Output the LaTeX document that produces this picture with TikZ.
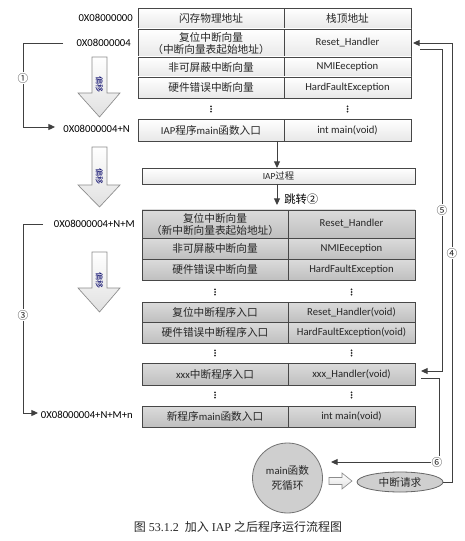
\documentclass[tikz,border=0pt]{standalone}
\usepackage{fontspec}
\setmainfont{Carlito}
\newfontfamily\cjk{Noto Sans CJK SC}
\newfontfamily\capserif{Liberation Serif}
\usetikzlibrary{arrows.meta,shapes.geometric}
\newcommand\vdotsat[2]{\foreach \k in {-2.6,0,2.6}{\fill[black!85] (#1,#2+\k) circle (0.75pt);}}
\begin{document}
\begin{tikzpicture}[x=0.75pt,y=-0.75pt,
 cellA/.style={draw=black!72, line width=0.6pt, inner sep=0pt, outer sep=0pt, top color=white, bottom color=black!9, text=black!85, font=\fontsize{8}{10}\selectfont, align=center},
 cellB/.style={cellA, top color=black!14, bottom color=black!25},
 lw1/.style={minimum width=109.5pt}, rw1/.style={minimum width=95.25pt},
 addr/.style={anchor=east, inner sep=0pt, font=\fontsize{8}{10}\selectfont, text=black},
 tip/.style={-{Triangle[length=5pt,width=4.5pt]}},
 conn/.style={draw=black!75, line width=0.7pt},
 num/.style={fill=white, inner sep=0.6pt, font=\cjk\fontsize{8}{9}\selectfont, text=black!85},
 hollow/.style={draw=black!45, line width=0.5pt, top color=white, bottom color=black!12},
 offs/.style={rotate=-90, inner sep=0pt, font=\cjk\fontsize{6}{6}\selectfont, text=blue!40!black}
]
\useasboundingbox (0,0) rectangle (464,541);

% ---------- table 1 ----------
\node[cellA,lw1,minimum height=15.75pt] (r0l) at (211,18.5) {{\cjk 闪存物理地址}};
\node[cellA,rw1,minimum height=15.75pt] (r0r) at (347.5,18.5) {{\cjk 栈顶地址}};
\node[cellA,lw1,minimum height=21pt] (r1l) at (211,43) {{\cjk 复位中断向量}\\[-1pt]{\cjk （中断向量表起始地址）}};
\node[cellA,rw1,minimum height=21pt] (r1r) at (347.5,43) {Reset\_Handler};
\node[cellA,lw1,minimum height=15pt] (r2l) at (211,67) {{\cjk 非可屏蔽中断向量}};
\node[cellA,rw1,minimum height=15pt] (r2r) at (347.5,67) {NMIEeception};
\node[cellA,lw1,minimum height=15.75pt] (r3l) at (211,87.5) {{\cjk 硬件错误中断向量}};
\node[cellA,rw1,minimum height=15.75pt] (r3r) at (347.5,87.5) {HardFaultException};
\vdotsat{211}{109}\vdotsat{347.5}{109}
\node[cellA,lw1,minimum height=16.5pt] (r4l) at (211,130) {IAP{\cjk 程序}main{\cjk 函数入口}};
\node[cellA,rw1,minimum height=16.5pt] (r4r) at (347.5,130) {int main(void)};

% ---------- IAP box ----------
\node[cellA,minimum width=204.75pt,minimum height=12pt,font=\fontsize{7}{8}\selectfont] (iap) at (278.5,176) {IAP{\cjk 过程}};

% ---------- table 2 ----------
\node[cellB,lw1,minimum height=21pt] (s0l) at (215,224) {{\cjk 复位中断向量}\\[-1pt]{\cjk （新中断向量表起始地址）}};
\node[cellB,rw1,minimum height=21pt] (s0r) at (351.5,224) {Reset\_Handler};
\node[cellB,lw1,minimum height=15.75pt] (s1l) at (215,248.5) {{\cjk 非可屏蔽中断向量}};
\node[cellB,rw1,minimum height=15.75pt] (s1r) at (351.5,248.5) {NMIEeception};
\node[cellB,lw1,minimum height=15.75pt] (s2l) at (215,269.5) {{\cjk 硬件错误中断向量}};
\node[cellB,rw1,minimum height=15.75pt] (s2r) at (351.5,269.5) {HardFaultException};
\vdotsat{215}{292}\vdotsat{351.5}{292}
\node[cellB,lw1,minimum height=15pt] (s3l) at (215,312) {{\cjk 复位中断程序入口}};
\node[cellB,rw1,minimum height=15pt] (s3r) at (351.5,312) {Reset\_Handler(void)};
\node[cellB,lw1,minimum height=15.75pt] (s4l) at (215,332.5) {{\cjk 硬件错误中断程序入口}};
\node[cellB,rw1,minimum height=15.75pt] (s4r) at (351.5,332.5) {HardFaultException(void)};
\vdotsat{215}{353}\vdotsat{351.5}{353}
\node[cellB,lw1,minimum height=16.5pt] (s5l) at (215,374) {xxx{\cjk 中断程序入口}};
\node[cellB,rw1,minimum height=16.5pt] (s5r) at (351.5,374) {xxx\_Handler(void)};
\vdotsat{215}{395}\vdotsat{351.5}{395}
\node[cellB,lw1,minimum height=15.75pt] (s6l) at (215,416.5) {{\cjk 新程序}main{\cjk 函数入口}};
\node[cellB,rw1,minimum height=15.75pt] (s6r) at (351.5,416.5) {int main(void)};

% ---------- addresses ----------
\node[addr] (a1) at (133,18) {0X08000000};
\node[addr] (a2) at (131,43) {0X08000004};
\node[addr] (a3) at (130,129) {0X08000004+N};
\node[addr] (a4) at (135,224) {0X08000004+N+M};
\node[addr] (a5) at (133,415) {0X08000004+N+M+n};

% ---------- hollow offset arrows ----------
\foreach \t/\h/\p in {57/93/117, 147/185/207, 252/288/312}{
  \path[hollow] (92,\t) -- (107,\t) -- (107,\h) -- (120,\h) -- (99.5,\p) -- (78,\h) -- (92,\h) -- cycle;
  \node[offs] at (99.5,\h-8) {偏移};
}

% ---------- bottom shapes ----------
\node[circle, minimum size=52.5pt, draw=black!55, line width=0.6pt, fill=black!19, inner sep=0pt, align=center, text=black!85, font=\fontsize{8}{11}\selectfont] (circ) at (287.5,478) {main{\cjk 函数}\\{\cjk 死循环}};
\node[ellipse, minimum width=64.5pt, minimum height=15pt, draw=black!60, line width=0.6pt, fill=black!19, inner sep=0pt, text=black!85, font=\fontsize{8}{10}\selectfont] (ell) at (400,482) {{\cjk 中断请求}};
\path[hollow] (329,477.5) -- (342,477.5) -- (342,473) -- (352,481) -- (342,489) -- (342,484.5) -- (329,484.5) -- cycle;

% ---------- connectors ----------
\coordinate (m1) at (277,141);
\coordinate (m2) at (277,205);
\coordinate (o1) at (63,43);
\coordinate (o3) at (43,224);
\coordinate (o5) at (420,49);
\coordinate (o6) at (421,378);
\coordinate (d6) at (331,462);

\draw[conn,tip] (m1) -- (m1 |- iap.north);
\draw[conn,tip] (m1 |- iap.south) -- (m2);
\node[anchor=west, inner sep=0pt, font=\cjk\fontsize{8.5}{10}\selectfont, text=black] (jump) at (284,199) {跳转②};

\draw[conn,tip] (o1) -- (23,43) |- ([xshift=-6pt,yshift=1.5pt]a3.west);
\draw[conn,tip] (o3) -- (23,224) |- ([xshift=-2pt,yshift=1.5pt]a5.west);
\draw[conn,tip] (ell.east) -- (452,482) -- (452,43) -- ([xshift=1.5pt]r1r.east);
\draw[conn,tip] (o5) -- (442,49) |- ([xshift=4.5pt,yshift=2.25pt]s5r.east);
\draw[conn,tip] (o6) -- (439,378) -- (439,462) -- (d6);

\node[num] (n1) at (23,78) {①};
\node[num] (n3) at (23,315) {③};
\node[num] (n4) at (452,253) {④};
\node[num] (n5) at (442,210) {⑤};
\node[num] (n6) at (437,462) {⑥};

% ---------- caption ----------
\node[inner sep=0pt, font=\capserif\fontsize{9}{10}\selectfont, text=black!85] (cap) at (238,527) {{\cjk 图} 53.1.2\ \ {\cjk 加入} IAP {\cjk 之后程序运行流程图}};
\end{tikzpicture}
\end{document}
